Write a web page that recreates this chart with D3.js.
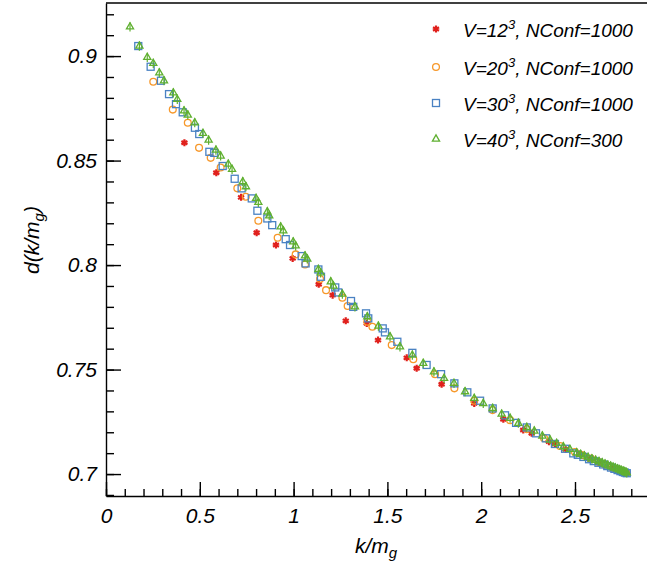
<!DOCTYPE html>
<html lang="en">
<head>
<meta charset="UTF-8">
<title>d(k/m_g) vs k/m_g</title>
<script src="https://d3js.org/d3.v7.min.js"></script>
<style>
    body { margin: 0; background: #fff; }
    svg { display: block; }
    .axis path, .axis line { stroke: #000; stroke-width: 1.4; }
    .axis text { font-family: "Liberation Sans", Arial, sans-serif; font-style: italic; font-size: 21px; fill: #000; }
    .title { font-family: "Liberation Sans", Arial, sans-serif; font-style: italic; font-size: 21px; }
    .legend text { font-family: "Liberation Sans", Arial, sans-serif; font-style: italic; font-size: 19px; }
</style>
</head>
<body>
<svg id="chart" width="647" height="564"></svg>
<script>
// V=12^3, NConf=1000
const x12 = [0.418, 0.588, 0.720, 0.803, 0.906, 0.995, 1.134, 1.208, 1.278, 1.390, 1.450, 1.603, 1.656, 1.789, 1.963, 2.118, 2.224, 2.269, 2.361, 2.393, 2.450, 2.527, 2.580, 2.633, 2.700, 2.745, 2.776];
const y12 = [0.8585, 0.8442, 0.8324, 0.8155, 0.8096, 0.8032, 0.7908, 0.7856, 0.7733, 0.7721, 0.7641, 0.7556, 0.7506, 0.7430, 0.7338, 0.7262, 0.7211, 0.7195, 0.7155, 0.7144, 0.7118, 0.7096, 0.7072, 0.7052, 0.7030, 0.7015, 0.7005];

// V=20^3, NConf=1000
const x20 = [0.252, 0.356, 0.436, 0.496, 0.558, 0.611, 0.700, 0.745, 0.812, 0.915, 1.011, 1.061, 1.141, 1.173, 1.260, 1.288, 1.393, 1.420, 1.523, 1.638, 1.754, 1.857, 1.963, 2.061, 2.154, 2.243, 2.335, 2.420, 2.500, 2.540, 2.585, 2.625, 2.660, 2.695, 2.725, 2.752, 2.776];
const y20 = [0.8877, 0.8744, 0.8681, 0.8561, 0.8513, 0.8467, 0.8367, 0.8327, 0.8212, 0.8131, 0.8051, 0.8003, 0.7933, 0.7880, 0.7844, 0.7804, 0.7729, 0.7705, 0.7617, 0.7549, 0.7478, 0.7410, 0.7351, 0.7306, 0.7258, 0.7215, 0.7171, 0.7134, 0.7105, 0.7090, 0.7074, 0.7058, 0.7044, 0.7032, 0.7021, 0.7012, 0.7005];

// V=30^3, NConf=1000
const x30 = [0.172, 0.238, 0.293, 0.336, 0.373, 0.409, 0.474, 0.497, 0.551, 0.577, 0.622, 0.686, 0.723, 0.777, 0.807, 0.860, 0.886, 0.958, 0.981, 1.043, 1.064, 1.132, 1.146, 1.222, 1.238, 1.306, 1.318, 1.386, 1.398, 1.475, 1.487, 1.553, 1.633, 1.709, 1.786, 1.857, 1.926, 1.994, 2.061, 2.127, 2.186, 2.243, 2.292, 2.345, 2.393, 2.447, 2.491, 2.515, 2.545, 2.575, 2.600, 2.625, 2.650, 2.672, 2.692, 2.710, 2.727, 2.742, 2.755, 2.766, 2.776];
const y30 = [0.9048, 0.8949, 0.8882, 0.8818, 0.8770, 0.8731, 0.8657, 0.8627, 0.8542, 0.8537, 0.8474, 0.8413, 0.8367, 0.8319, 0.8260, 0.8223, 0.8191, 0.8124, 0.8096, 0.8043, 0.8008, 0.7979, 0.7944, 0.7893, 0.7869, 0.7828, 0.7800, 0.7769, 0.7745, 0.7697, 0.7678, 0.7633, 0.7580, 0.7522, 0.7478, 0.7434, 0.7391, 0.7351, 0.7314, 0.7281, 0.7245, 0.7223, 0.7195, 0.7171, 0.7144, 0.7121, 0.7099, 0.7092, 0.7082, 0.7071, 0.7062, 0.7054, 0.7046, 0.7038, 0.7031, 0.7025, 0.7019, 0.7014, 0.7010, 0.7007, 0.7004];

// V=40^3, NConf=300
const x40 = [0.128, 0.178, 0.220, 0.252, 0.284, 0.309, 0.359, 0.380, 0.416, 0.436, 0.473, 0.517, 0.547, 0.586, 0.611, 0.652, 0.672, 0.729, 0.746, 0.800, 0.812, 0.860, 0.870, 0.931, 0.945, 0.998, 1.011, 1.061, 1.073, 1.132, 1.144, 1.198, 1.212, 1.260, 1.327, 1.393, 1.452, 1.514, 1.567, 1.633, 1.691, 1.748, 1.802, 1.855, 1.914, 1.963, 2.011, 2.061, 2.109, 2.154, 2.198, 2.243, 2.283, 2.326, 2.367, 2.402, 2.438, 2.473, 2.509, 2.530, 2.550, 2.570, 2.590, 2.610, 2.628, 2.645, 2.660, 2.675, 2.690, 2.703, 2.715, 2.727, 2.738, 2.748, 2.757, 2.765, 2.772, 2.776];
const y40 = [0.9140, 0.9048, 0.8994, 0.8965, 0.8920, 0.8882, 0.8824, 0.8793, 0.8738, 0.8718, 0.8681, 0.8630, 0.8598, 0.8550, 0.8522, 0.8483, 0.8458, 0.8399, 0.8375, 0.8319, 0.8300, 0.8255, 0.8236, 0.8183, 0.8164, 0.8111, 0.8092, 0.8044, 0.8029, 0.7979, 0.7963, 0.7920, 0.7900, 0.7861, 0.7800, 0.7753, 0.7708, 0.7657, 0.7609, 0.7569, 0.7530, 0.7489, 0.7458, 0.7434, 0.7394, 0.7362, 0.7338, 0.7314, 0.7287, 0.7267, 0.7243, 0.7223, 0.7206, 0.7182, 0.7163, 0.7147, 0.7131, 0.7118, 0.7102, 0.7094, 0.7087, 0.7080, 0.7073, 0.7066, 0.7060, 0.7054, 0.7048, 0.7043, 0.7038, 0.7033, 0.7029, 0.7025, 0.7021, 0.7017, 0.7014, 0.7011, 0.7008, 0.7006];
const err40 = 0.0022;

const xMajor = [0, 0.5, 1, 1.5, 2, 2.5, 3];
const xLabels = ["0", "0.5", "1", "1.5", "2", "2.5", ""];
const yMajor = [0.7, 0.75, 0.8, 0.85, 0.9];
const legendLabels = ["12", "20", "30", "40"];
const legendConf = ["1000", "1000", "1000", "300"];

const svg = d3.select("#chart");
const x = d3.scaleLinear().domain([0, 3]).range([106, 668.8]);
const y = d3.scaleLinear().domain([0.6895, 0.9254]).range([496, 3]);

// frame (right side runs off the page)
svg.append("line").attr("x1", 106).attr("x2", 647).attr("y1", 3).attr("y2", 3)
    .attr("stroke", "#000").attr("stroke-width", 1.4);

// minor ticks
svg.append("g").attr("class", "axis").attr("transform", "translate(0,496)")
    .call(d3.axisBottom(x).tickValues(d3.range(0, 3.001, 0.1)).tickSize(-7).tickFormat(""))
    .call(g => g.select(".domain").remove());
svg.append("g").attr("class", "axis").attr("transform", "translate(106,0)")
    .call(d3.axisLeft(y).tickValues(d3.range(0.69, 0.9255, 0.01)).tickSize(-8).tickFormat(""))
    .call(g => g.select(".domain").remove());

// major ticks + labels
svg.append("g").attr("class", "axis").attr("transform", "translate(0,496)")
    .call(d3.axisBottom(x).tickValues(xMajor).tickSize(-14).tickSizeOuter(0).tickPadding(12)
        .tickFormat((d, i) => xLabels[i]));
svg.append("g").attr("class", "axis").attr("transform", "translate(106,0)")
    .call(d3.axisLeft(y).tickValues(yMajor).tickSize(-15).tickSizeOuter(0).tickPadding(9)
        .tickFormat(d => String(+d.toFixed(2))));

// axis titles
const xt = svg.append("text").attr("class", "title").attr("x", 376).attr("y", 553).attr("text-anchor", "middle");
xt.append("tspan").text("k/m");
xt.append("tspan").attr("dy", 5).attr("font-size", 15).text("g");

const yt = svg.append("text").attr("class", "title").attr("text-anchor", "middle")
    .attr("transform", "translate(39,240) rotate(-90)");
yt.append("tspan").text("d(k/m");
yt.append("tspan").attr("dy", 5).attr("font-size", 15).text("g");
yt.append("tspan").attr("dy", -5).text(")");

const plot = svg.append("g");

// V=12^3 : red stars
plot.append("g").selectAll("path").data(d3.range(x12.length)).join("path")
    .attr("transform", i => `translate(${x(x12[i])},${y(y12[i])})`)
    .attr("d", d3.symbol(d3.symbolAsterisk, 34))
    .attr("fill", "none").attr("stroke", "#e0201c").attr("stroke-width", 2.2);

// V=20^3 : orange circles
plot.append("g").selectAll("circle").data(d3.range(x20.length)).join("circle")
    .attr("cx", i => x(x20[i])).attr("cy", i => y(y20[i])).attr("r", 3.4)
    .attr("fill", "none").attr("stroke", "#f7982a").attr("stroke-width", 1.3);

// V=30^3 : blue squares
plot.append("g").selectAll("rect").data(d3.range(x30.length)).join("rect")
    .attr("x", i => x(x30[i]) - 3.5).attr("y", i => y(y30[i]) - 3.5)
    .attr("width", 7).attr("height", 7)
    .attr("fill", "none").attr("stroke", "#4a82c3").attr("stroke-width", 1.3);

// V=40^3 : green triangles with error bars
const g40 = plot.append("g");
g40.selectAll("line").data(d3.range(x40.length)).join("line")
    .attr("x1", i => x(x40[i])).attr("x2", i => x(x40[i]))
    .attr("y1", i => y(y40[i] - err40)).attr("y2", i => y(y40[i] + err40))
    .attr("stroke", "#5fb030").attr("stroke-width", 1.2);
g40.selectAll("path").data(d3.range(x40.length)).join("path")
    .attr("transform", i => `translate(${x(x40[i])},${y(y40[i])})`)
    .attr("d", d3.symbol(d3.symbolTriangle, 22))
    .attr("fill", "none").attr("stroke", "#5fb030").attr("stroke-width", 1.3);

// legend
const legend = svg.append("g").attr("class", "legend");
const rowY = [30, 68, 104, 140];
legendLabels.forEach((v, i) => {
    const cy = rowY[i];
    if (i === 0) {
        legend.append("path").attr("transform", `translate(436,${cy - 1})`)
            .attr("d", d3.symbol(d3.symbolAsterisk, 34))
            .attr("fill", "none").attr("stroke", "#e0201c").attr("stroke-width", 2.2);
    } else if (i === 1) {
        legend.append("circle").attr("cx", 436).attr("cy", cy - 1).attr("r", 3.4)
            .attr("fill", "none").attr("stroke", "#f7982a").attr("stroke-width", 1.3);
    } else if (i === 2) {
        legend.append("rect").attr("x", 432.5).attr("y", cy - 4.5).attr("width", 7).attr("height", 7)
            .attr("fill", "none").attr("stroke", "#4a82c3").attr("stroke-width", 1.3);
    } else {
        legend.append("path").attr("transform", `translate(436,${cy - 1})`)
            .attr("d", d3.symbol(d3.symbolTriangle, 22))
            .attr("fill", "none").attr("stroke", "#5fb030").attr("stroke-width", 1.3);
    }
    const t = legend.append("text").attr("x", 463).attr("y", cy + 7);
    t.append("tspan").text("V=" + v);
    t.append("tspan").attr("dy", -8).attr("font-size", 13).text("3");
    t.append("tspan").attr("dy", 8).text(", NConf=" + legendConf[i]);
});
</script>
</body>
</html>
